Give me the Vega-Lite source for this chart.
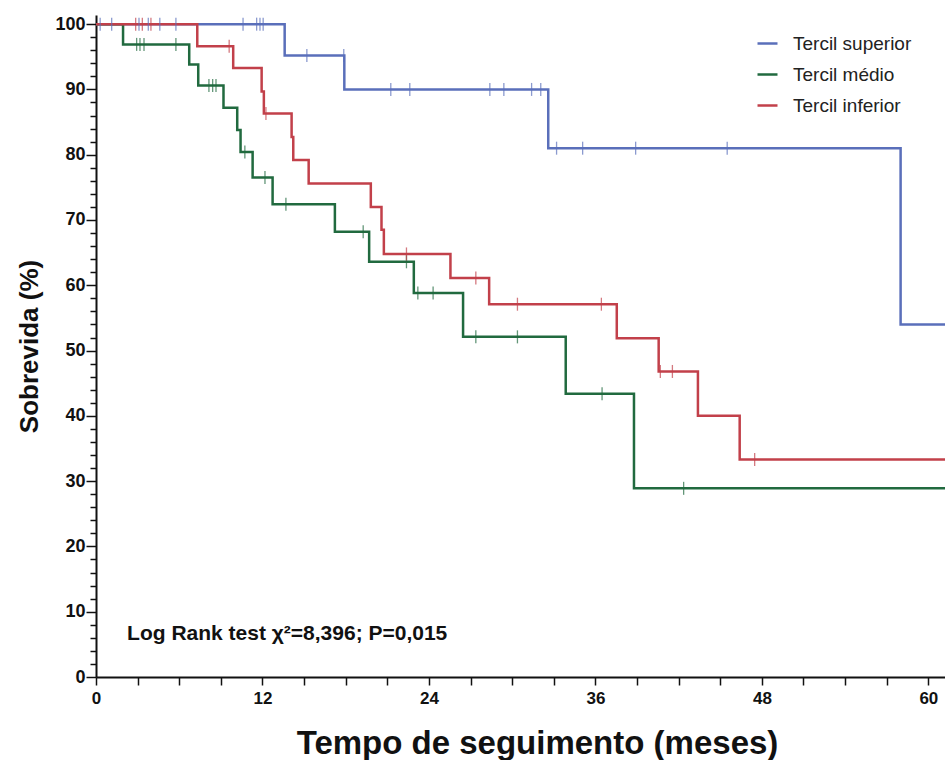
{
  "$schema": "https://vega.github.io/schema/vega-lite/v6.json",
  "autosize": "none",
  "width": 849,
  "height": 662,
  "padding": {"left": 96, "top": 15, "right": 0, "bottom": 83},
  "background": "white",
  "config": {"view": {"stroke": null}},
  "datasets": {
    "curves": [
      {"g": "Tercil superior", "t": 0, "s": 100},
      {"g": "Tercil superior", "t": 13.6, "s": 95.2},
      {"g": "Tercil superior", "t": 17.9, "s": 90.0},
      {"g": "Tercil superior", "t": 32.6, "s": 81.0},
      {"g": "Tercil superior", "t": 58.0, "s": 54.0},
      {"g": "Tercil superior", "t": 61.2, "s": 54.0},
      {"g": "Tercil médio", "t": 0, "s": 100},
      {"g": "Tercil médio", "t": 1.95, "s": 96.9},
      {"g": "Tercil médio", "t": 6.72, "s": 93.8},
      {"g": "Tercil médio", "t": 7.37, "s": 90.6},
      {"g": "Tercil médio", "t": 9.19, "s": 87.2},
      {"g": "Tercil médio", "t": 10.18, "s": 83.8},
      {"g": "Tercil médio", "t": 10.42, "s": 80.4},
      {"g": "Tercil médio", "t": 11.29, "s": 76.5},
      {"g": "Tercil médio", "t": 12.73, "s": 72.4},
      {"g": "Tercil médio", "t": 17.22, "s": 68.2},
      {"g": "Tercil médio", "t": 19.69, "s": 63.6},
      {"g": "Tercil médio", "t": 22.91, "s": 58.8},
      {"g": "Tercil médio", "t": 26.46, "s": 52.1},
      {"g": "Tercil médio", "t": 33.86, "s": 43.4},
      {"g": "Tercil médio", "t": 38.78, "s": 28.9},
      {"g": "Tercil médio", "t": 61.2, "s": 28.9},
      {"g": "Tercil inferior", "t": 0, "s": 100},
      {"g": "Tercil inferior", "t": 7.3, "s": 96.6},
      {"g": "Tercil inferior", "t": 9.89, "s": 93.3},
      {"g": "Tercil inferior", "t": 11.94, "s": 89.7},
      {"g": "Tercil inferior", "t": 12.1, "s": 86.3},
      {"g": "Tercil inferior", "t": 14.1, "s": 82.7},
      {"g": "Tercil inferior", "t": 14.22, "s": 79.2},
      {"g": "Tercil inferior", "t": 15.33, "s": 75.6},
      {"g": "Tercil inferior", "t": 19.81, "s": 72.0},
      {"g": "Tercil inferior", "t": 20.58, "s": 68.5},
      {"g": "Tercil inferior", "t": 20.75, "s": 64.8},
      {"g": "Tercil inferior", "t": 25.55, "s": 61.1},
      {"g": "Tercil inferior", "t": 28.34, "s": 57.1},
      {"g": "Tercil inferior", "t": 37.54, "s": 51.9},
      {"g": "Tercil inferior", "t": 40.56, "s": 46.8},
      {"g": "Tercil inferior", "t": 43.39, "s": 40.0},
      {"g": "Tercil inferior", "t": 46.4, "s": 33.3},
      {"g": "Tercil inferior", "t": 61.2, "s": 33.3}
    ],
    "censors": [
      {"g": "Tercil superior", "t": 0.3, "s": 100},
      {"g": "Tercil superior", "t": 1.13, "s": 100},
      {"g": "Tercil superior", "t": 3.1, "s": 100},
      {"g": "Tercil superior", "t": 3.77, "s": 100},
      {"g": "Tercil superior", "t": 4.6, "s": 100},
      {"g": "Tercil superior", "t": 5.76, "s": 100},
      {"g": "Tercil superior", "t": 10.6, "s": 100},
      {"g": "Tercil superior", "t": 11.58, "s": 100},
      {"g": "Tercil superior", "t": 11.82, "s": 100},
      {"g": "Tercil superior", "t": 12.05, "s": 100},
      {"g": "Tercil superior", "t": 15.2, "s": 95.2},
      {"g": "Tercil superior", "t": 17.86, "s": 95.2},
      {"g": "Tercil superior", "t": 21.25, "s": 90.0},
      {"g": "Tercil superior", "t": 22.62, "s": 90.0},
      {"g": "Tercil superior", "t": 28.39, "s": 90.0},
      {"g": "Tercil superior", "t": 29.4, "s": 90.0},
      {"g": "Tercil superior", "t": 31.4, "s": 90.0},
      {"g": "Tercil superior", "t": 32.06, "s": 90.0},
      {"g": "Tercil superior", "t": 33.2, "s": 81.0},
      {"g": "Tercil superior", "t": 35.08, "s": 81.0},
      {"g": "Tercil superior", "t": 38.9, "s": 81.0},
      {"g": "Tercil superior", "t": 45.5, "s": 81.0},
      {"g": "Tercil médio", "t": 2.93, "s": 96.9},
      {"g": "Tercil médio", "t": 3.17, "s": 96.9},
      {"g": "Tercil médio", "t": 3.46, "s": 96.9},
      {"g": "Tercil médio", "t": 5.76, "s": 96.9},
      {"g": "Tercil médio", "t": 8.14, "s": 90.6},
      {"g": "Tercil médio", "t": 8.41, "s": 90.6},
      {"g": "Tercil médio", "t": 8.65, "s": 90.6},
      {"g": "Tercil médio", "t": 10.73, "s": 80.4},
      {"g": "Tercil médio", "t": 12.18, "s": 76.5},
      {"g": "Tercil médio", "t": 13.69, "s": 72.4},
      {"g": "Tercil médio", "t": 19.26, "s": 68.2},
      {"g": "Tercil médio", "t": 22.38, "s": 63.6},
      {"g": "Tercil médio", "t": 23.2, "s": 58.8},
      {"g": "Tercil médio", "t": 24.3, "s": 58.8},
      {"g": "Tercil médio", "t": 27.38, "s": 52.1},
      {"g": "Tercil médio", "t": 30.38, "s": 52.1},
      {"g": "Tercil médio", "t": 36.48, "s": 43.4},
      {"g": "Tercil médio", "t": 42.36, "s": 28.9},
      {"g": "Tercil inferior", "t": 2.86, "s": 100},
      {"g": "Tercil inferior", "t": 3.34, "s": 100},
      {"g": "Tercil inferior", "t": 3.96, "s": 100},
      {"g": "Tercil inferior", "t": 9.6, "s": 96.6},
      {"g": "Tercil inferior", "t": 12.25, "s": 86.3},
      {"g": "Tercil inferior", "t": 22.38, "s": 64.8},
      {"g": "Tercil inferior", "t": 27.38, "s": 61.1},
      {"g": "Tercil inferior", "t": 30.38, "s": 57.1},
      {"g": "Tercil inferior", "t": 36.43, "s": 57.1},
      {"g": "Tercil inferior", "t": 40.68, "s": 46.8},
      {"g": "Tercil inferior", "t": 41.55, "s": 46.8},
      {"g": "Tercil inferior", "t": 47.48, "s": 33.3}
    ],
    "notes": [
      {"label": "Log Rank test χ²=8,396; P=0,015", "t": 2.24, "s": 6.6}
    ]
  },
  "layer": [
    {
      "data": {"name": "curves"},
      "mark": {"type": "line", "interpolate": "step-after", "strokeWidth": 2.5},
      "encoding": {
        "x": {
          "field": "t", "type": "quantitative",
          "scale": {"domain": [0, 61.2], "nice": false, "zero": false},
          "axis": {
            "title": "Tempo de seguimento (meses)",
            "values": [0,3,6,9,12,15,18,21,24,27,30,33,36,39,42,45,48,51,54,57,60],
            "tickCount": 40,
            "labelExpr": "datum.value % 12 === 0 ? datum.label : ''",
            "labelOverlap": false,
            "grid": false,
            "domainColor": "#111", "domainWidth": 2,
            "tickColor": "#111", "tickWidth": 1.5, "tickSize": 8,
            "labelFont": "Liberation Sans", "labelFontWeight": "bold", "labelFontSize": 17, "labelColor": "#111",
            "labelPadding": 5, "labelFlush": false,
            "titleFont": "Liberation Sans", "titleFontWeight": "bold", "titleFontSize": 33, "titleColor": "#111",
            "titlePadding": 21, "titleX": 441, "titleAlign": "center", "titleAnchor": null
          }
        },
        "y": {
          "field": "s", "type": "quantitative",
          "scale": {"domain": [0, 101.4], "nice": false},
          "axis": {
            "title": "Sobrevida (%)",
            "values": [0,2,4,6,8,10,12,14,16,18,20,22,24,26,28,30,32,34,36,38,40,42,44,46,48,50,52,54,56,58,60,62,64,66,68,70,72,74,76,78,80,82,84,86,88,90,92,94,96,98,100],
            "tickCount": 100,
            "labelExpr": "datum.value % 10 === 0 ? datum.label : ''",
            "labelOverlap": false,
            "grid": false,
            "domainColor": "#111", "domainWidth": 2,
            "tickColor": "#111", "tickWidth": 1.5,
            "tickSize": {"condition": {"test": "datum.value % 10 === 0", "value": 10}, "value": 6},
            "labelFont": "Liberation Sans", "labelFontWeight": "bold", "labelFontSize": 18, "labelColor": "#111",
            "labelPadding": 1, "labelFlush": false,
            "titleFont": "Liberation Sans", "titleFontWeight": "bold", "titleFontSize": 26, "titleColor": "#111",
            "titlePadding": 12
          }
        },
        "color": {
          "field": "g", "type": "nominal",
          "scale": {"domain": ["Tercil superior", "Tercil médio", "Tercil inferior"], "range": ["#5A6FBA", "#216A3F", "#C2404A"]},
          "legend": {
            "title": null, "orient": "none", "legendX": 660, "legendY": 17,
            "symbolType": "stroke", "symbolSize": 400, "symbolStrokeWidth": 2.5,
            "labelFont": "Liberation Sans", "labelFontSize": 19, "labelColor": "#222",
            "rowPadding": 9, "labelOffset": 14
          }
        },
        "detail": {"field": "g"}
      }
    },
    {
      "data": {"name": "censors"},
      "mark": {"type": "tick", "orient": "vertical", "size": 13, "thickness": 1.3},
      "encoding": {
        "x": {"field": "t", "type": "quantitative"},
        "y": {"field": "s", "type": "quantitative"},
        "color": {"field": "g", "type": "nominal", "legend": null}
      }
    },
    {
      "data": {"name": "notes"},
      "mark": {"type": "text", "align": "left", "baseline": "middle", "font": "Liberation Sans", "fontWeight": "bold", "fontSize": 21, "color": "#111"},
      "encoding": {
        "x": {"field": "t", "type": "quantitative"},
        "y": {"field": "s", "type": "quantitative"},
        "text": {"field": "label"}
      }
    }
  ]
}
